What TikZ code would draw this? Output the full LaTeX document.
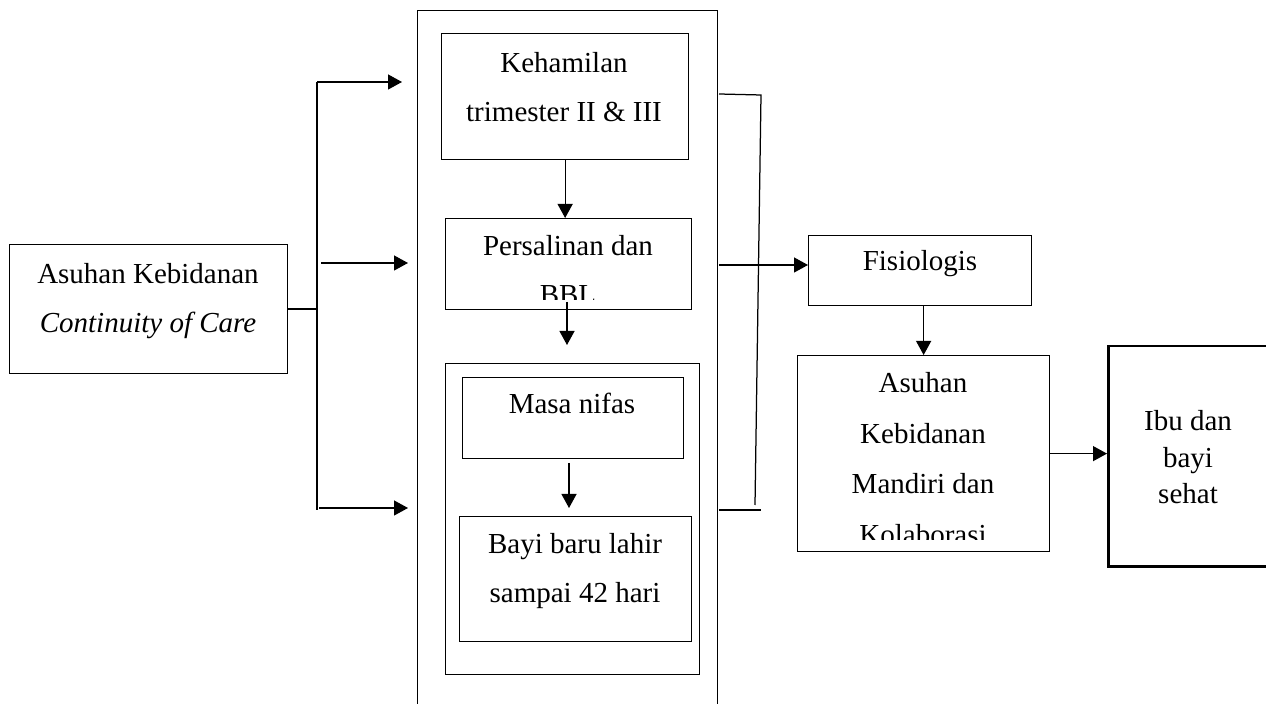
\documentclass[tikz,border=0pt]{standalone}
\usepackage{fontspec}
\setmainfont{Liberation Serif}
\usetikzlibrary{arrows.meta}

\begin{document}
\begin{tikzpicture}[x=0.4pt, y=-0.4pt,
		box/.style={draw, line width=0.5pt, inner sep=0pt, anchor=north west},
		txt/.style={anchor=north, inner sep=0pt, align=center, font=\fontsize{11.6pt}{19.6pt}\selectfont},
		arr/.style={line width=0.5pt, -{Triangle[length=5.6pt, width=6pt]}},
		ln/.style={line width=0.5pt}]
		\path[use as bounding box, clip] (0,0) rectangle (1266,704);

		\node[box, minimum width=111.2pt, minimum height=51.6pt] (care) at (9,244) {};
		\node[txt] (care-t) at (148,263) {Asuhan Kebidanan\\\textit{Continuity of Care}};

		\node[box, minimum width=120pt, minimum height=284pt] (group) at (417,10) {};
		\node[box, minimum width=98.8pt, minimum height=50.4pt] (hamil) at (441,33) {};
		\node[txt] (hamil-t) at (564,52) {Kehamilan\\trimester II \& III};
		\node[box, minimum width=98.4pt, minimum height=36.4pt] (salin) at (445,218) {};
		\begin{scope}
			\clip (salin.north west) rectangle ([yshift=4.4pt]salin.south east);
			\node[txt] (salin-t) at (568,235) {Persalinan dan\\BBL};
		\end{scope}
		\node[box, minimum width=101.6pt, minimum height=124.4pt] (nifasgrp) at (445,363) {};
		\node[box, minimum width=88.4pt, minimum height=32.4pt] (nifas) at (462,377) {};
		\node[txt] (nifas-t) at (572,393) {Masa nifas};
		\node[box, minimum width=92.8pt, minimum height=50pt] (bayi) at (459,516) {};
		\node[txt] (bayi-t) at (575,533) {Bayi baru lahir\\sampai 42 hari};

		\node[box, minimum width=89.2pt, minimum height=28pt] (fisio) at (808,235) {};
		\node[txt] (fisio-t) at (920,250) {Fisiologis};
		\node[box, minimum width=100.8pt, minimum height=78.4pt] (mandiri) at (797,355) {};
		\begin{scope}
			\clip (mandiri.north west) rectangle ([yshift=5.2pt]mandiri.south east);
			\node[txt, font=\fontsize{11.6pt}{20.2pt}\selectfont] (mandiri-t) at (923,372) {Asuhan\\Kebidanan\\Mandiri dan\\Kolaborasi};
		\end{scope}
		\node[box, line width=1pt, minimum width=64.8pt, minimum height=88pt] (sehat) at (1107,345) {};
		\node[txt, font=\fontsize{11.6pt}{14.6pt}\selectfont] (sehat-t) at (1188,410) {Ibu dan\\bayi\\sehat};

		\coordinate (sp1) at (317,82);
		\coordinate (sp2) at (317,510);
		\draw[ln] (care.east) -- (care.east -| sp1);
		\draw[ln] (sp1) -- (sp2);
		\draw[arr] (sp1) -- (402,82);
		\draw[arr] (321,263) -- (408,263);
		\draw[arr] (319,508) -- (408,508);

		\draw[arr] (hamil.south) -- (hamil.south |- salin.north);
		\draw[arr] (567,302) -- (567,345);
		\draw[arr] (569,463) -- (569,508);

		\draw[ln] (719,94) -- (761,95) -- (755,505);
		\draw[ln] (719,510) -- (761,510);
		\coordinate (brk) at (719,265);
		\draw[arr] (brk) -- (brk -| fisio.west);
		\draw[arr] (fisio.south -| mandiri.north) -- (mandiri.north);
		\draw[arr] (mandiri.east) -- (mandiri.east -| sehat.west);
	\end{tikzpicture}
\end{document}
